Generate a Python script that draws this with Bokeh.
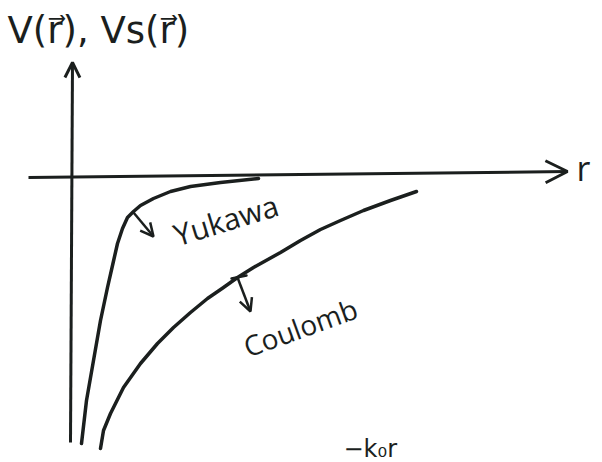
import math
from bokeh.plotting import figure
from bokeh.models import Range1d, Arrow, OpenHead
from bokeh.core.properties import value
from bokeh.embed import file_html
from bokeh.resources import INLINE

# Sketch of the screened (Yukawa) and bare (Coulomb) potentials, V(r) < 0
r_yukawa = [0.10, 0.15, 0.22, 0.29, 0.36, 0.41, 0.46, 0.51, 0.56, 0.62, 0.69,
            0.82, 0.99, 1.19, 1.49, 1.87]
v_yukawa = [-2.68, -2.25, -1.85, -1.45, -1.12, -0.90, -0.68, -0.53, -0.42, -0.36,
            -0.30, -0.23, -0.16, -0.11, -0.07, -0.03]

r_coulomb = [0.29, 0.32, 0.39, 0.52, 0.69, 0.86, 1.02, 1.19, 1.36, 1.52, 1.66,
             1.82, 2.09, 2.29, 2.49, 2.69, 2.92, 3.19, 3.45]
v_coulomb = [-2.73, -2.55, -2.38, -2.12, -1.88, -1.68, -1.52, -1.37, -1.23, -1.12,
             -1.02, -0.92, -0.77, -0.65, -0.54, -0.45, -0.35, -0.25, -0.16]

title_text = "V(r\u20d7), Vs(r\u20d7)"
axis_label_r = "r"
label_yukawa = "Yukawa"
label_coulomb = "Coulomb"
exponent_text = "\u2212k\u2080r"

INK = "#1b1f1e"
FONT = value("Open Sans")
FONT_SYM = value("DejaVu Sans")

p = figure(width=602, height=462, output_backend="svg", toolbar_location=None,
           x_axis_type=None, y_axis_type=None, min_border=0,
           x_range=Range1d(-0.71, 5.31), y_range=Range1d(-2.87, 1.75))
p.outline_line_color = None
p.xgrid.visible = False
p.ygrid.visible = False
p.background_fill_color = "white"
p.border_fill_color = "white"

# hand-drawn axes with open arrow heads
p.add_layout(Arrow(x_start=-0.43, y_start=-0.02, x_end=4.96, y_end=0.04,
                   line_color=INK, line_width=3,
                   end=OpenHead(size=22, line_color=INK, line_width=3)))
p.add_layout(Arrow(x_start=-0.01, y_start=-2.67, x_end=0.01, y_end=1.13,
                   line_color=INK, line_width=3,
                   end=OpenHead(size=15, line_color=INK, line_width=3)))

# the two potential curves
p.line(r_yukawa, v_yukawa, line_color=INK, line_width=3.5,
       line_cap="round", line_join="round")
p.line(r_coulomb, v_coulomb, line_color=INK, line_width=3.5,
       line_cap="round", line_join="round")

# pointers from the curves to their names
p.add_layout(Arrow(x_start=0.62, y_start=-0.37, x_end=0.82, y_end=-0.61,
                   line_color=INK, line_width=2.5,
                   end=OpenHead(size=13, line_color=INK, line_width=2.5)))
p.add_layout(Arrow(x_start=1.66, y_start=-1.02, x_end=1.79, y_end=-1.36,
                   line_color=INK, line_width=2.5,
                   end=OpenHead(size=13, line_color=INK, line_width=2.5)))
p.segment(x0=[1.60], y0=[-1.03], x1=[1.75], y1=[-1.00], line_color=INK,
          line_width=2.5, line_cap="round")

# texts
p.text(x=[-0.64], y=[1.45], text=[title_text], text_font=FONT_SYM,
       text_font_size="37px", text_color=INK, text_baseline="alphabetic",
       text_align="left")
p.text(x=[5.05], y=[0.08], text=[axis_label_r], text_font=FONT,
       text_font_size="34px", text_color=INK, text_baseline="alphabetic",
       text_align="left")
p.text(x=[1.03], y=[-0.60], text=[label_yukawa], text_font=FONT,
       text_font_size="30px", text_color=INK, text_baseline="alphabetic",
       text_align="left", angle=math.radians(17))
p.text(x=[1.73], y=[-1.72], text=[label_coulomb], text_font=FONT,
       text_font_size="28px", text_color=INK, text_baseline="alphabetic",
       text_align="left", angle=math.radians(20))
p.text(x=[2.72], y=[-2.73], text=[exponent_text], text_font=FONT_SYM,
       text_font_size="24px", text_color=INK, text_baseline="alphabetic",
       text_align="left")

open("out.html", "w").write(file_html(p, INLINE))
